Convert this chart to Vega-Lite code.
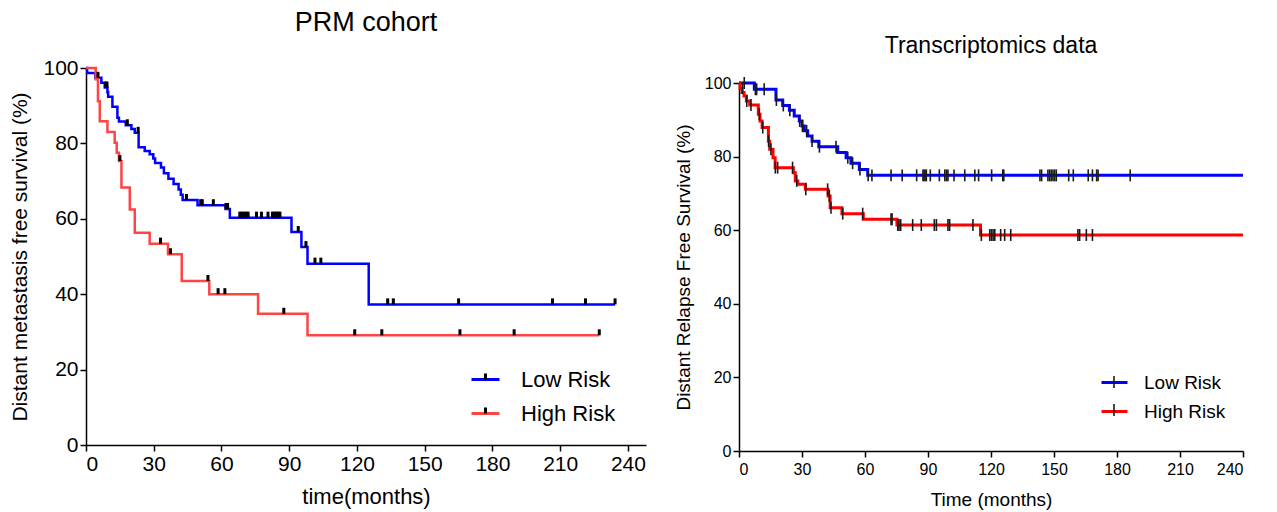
{
  "$schema": "https://vega.github.io/schema/vega-lite/v6.json",
  "padding": {"left": 9, "top": 9, "right": 5, "bottom": 5},
  "background": "white",
  "spacing": 28,
  "config": {
    "view": {"stroke": null},
    "font": "Liberation Sans",
    "axis": {"domainColor": "black", "tickColor": "black", "labelColor": "black", "titleColor": "black", "grid": false, "domainWidth": 1.5, "tickWidth": 1.5, "tickSize": 6, "titleFontWeight": "normal", "labelFont": "Liberation Sans", "titleFont": "Liberation Sans", "labelPadding": 2},
    "legend": {"labelFont": "Liberation Sans", "labelColor": "black", "padding": 0, "title": null},
    "title": {"font": "Liberation Sans", "fontWeight": "normal", "color": "black"}
  },
  "resolve": {"scale": {"color": "independent", "shape": "independent"}, "legend": {"color": "independent", "shape": "independent"}},
  "datasets": {
    "prm_curve": [
      {"t": 0, "s": 100, "group": "Low Risk"}, {"t": 0.5, "s": 98.7, "group": "Low Risk"}, {"t": 4.1, "s": 97.4, "group": "Low Risk"}, {"t": 6.8, "s": 96.1, "group": "Low Risk"}, {"t": 8.3, "s": 94.8, "group": "Low Risk"}, {"t": 9.5, "s": 93.6, "group": "Low Risk"}, {"t": 9.8, "s": 92.4, "group": "Low Risk"}, {"t": 11.7, "s": 89.7, "group": "Low Risk"}, {"t": 13.9, "s": 86.8, "group": "Low Risk"}, {"t": 14.6, "s": 85.8, "group": "Low Risk"}, {"t": 17.6, "s": 84.8, "group": "Low Risk"}, {"t": 20.1, "s": 83.8, "group": "Low Risk"}, {"t": 21.6, "s": 82.8, "group": "Low Risk"}, {"t": 23.3, "s": 79.0, "group": "Low Risk"}, {"t": 26, "s": 78.0, "group": "Low Risk"}, {"t": 28.2, "s": 77.1, "group": "Low Risk"}, {"t": 29.8, "s": 76.0, "group": "Low Risk"}, {"t": 30.6, "s": 74.8, "group": "Low Risk"}, {"t": 33.2, "s": 73.6, "group": "Low Risk"}, {"t": 34.5, "s": 72.1, "group": "Low Risk"}, {"t": 36.5, "s": 70.6, "group": "Low Risk"}, {"t": 38.8, "s": 69.2, "group": "Low Risk"}, {"t": 41, "s": 67.8, "group": "Low Risk"}, {"t": 42, "s": 66.4, "group": "Low Risk"}, {"t": 42.8, "s": 65.0, "group": "Low Risk"}, {"t": 49.4, "s": 63.6, "group": "Low Risk"}, {"t": 61.8, "s": 62.6, "group": "Low Risk"}, {"t": 63.7, "s": 60.3, "group": "Low Risk"}, {"t": 91, "s": 56.5, "group": "Low Risk"}, {"t": 95.4, "s": 52.5, "group": "Low Risk"}, {"t": 98.1, "s": 48.1, "group": "Low Risk"}, {"t": 125.2, "s": 37.3, "group": "Low Risk"}, {"t": 234.3, "s": 37.3, "group": "Low Risk"},
      {"t": 0, "s": 100, "group": "High Risk"}, {"t": 4.3, "s": 97.0, "group": "High Risk"}, {"t": 5.3, "s": 91.2, "group": "High Risk"}, {"t": 6.1, "s": 85.9, "group": "High Risk"}, {"t": 9.5, "s": 83.0, "group": "High Risk"}, {"t": 12.7, "s": 80.2, "group": "High Risk"}, {"t": 13.6, "s": 77.5, "group": "High Risk"}, {"t": 14.6, "s": 75.3, "group": "High Risk"}, {"t": 15.7, "s": 68.3, "group": "High Risk"}, {"t": 19.4, "s": 62.5, "group": "High Risk"}, {"t": 21.6, "s": 56.3, "group": "High Risk"}, {"t": 28.2, "s": 53.4, "group": "High Risk"}, {"t": 36.3, "s": 50.6, "group": "High Risk"}, {"t": 42.4, "s": 43.5, "group": "High Risk"}, {"t": 54.6, "s": 40.0, "group": "High Risk"}, {"t": 76.2, "s": 34.8, "group": "High Risk"}, {"t": 98.1, "s": 29.1, "group": "High Risk"}, {"t": 227.3, "s": 29.1, "group": "High Risk"}
    ],
    "prm_cens": [
      {"t": 5.3, "s": 97.4, "group": "Low Risk"}, {"t": 8.8, "s": 94.8, "group": "Low Risk"}, {"t": 9.3, "s": 94.8, "group": "Low Risk"}, {"t": 18.3, "s": 84.8, "group": "Low Risk"}, {"t": 23.1, "s": 82.8, "group": "Low Risk"}, {"t": 44.5, "s": 65.0, "group": "Low Risk"}, {"t": 50.8, "s": 63.6, "group": "Low Risk"}, {"t": 51.5, "s": 63.6, "group": "Low Risk"}, {"t": 56.4, "s": 63.6, "group": "Low Risk"}, {"t": 62.0, "s": 62.6, "group": "Low Risk"}, {"t": 62.7, "s": 62.6, "group": "Low Risk"}, {"t": 68.1, "s": 60.3, "group": "Low Risk"}, {"t": 69, "s": 60.3, "group": "Low Risk"}, {"t": 70, "s": 60.3, "group": "Low Risk"}, {"t": 70.9, "s": 60.3, "group": "Low Risk"}, {"t": 71.8, "s": 60.3, "group": "Low Risk"}, {"t": 75.5, "s": 60.3, "group": "Low Risk"}, {"t": 77.7, "s": 60.3, "group": "Low Risk"}, {"t": 80.6, "s": 60.3, "group": "Low Risk"}, {"t": 82.6, "s": 60.3, "group": "Low Risk"}, {"t": 83.5, "s": 60.3, "group": "Low Risk"}, {"t": 84.3, "s": 60.3, "group": "Low Risk"}, {"t": 85.1, "s": 60.3, "group": "Low Risk"}, {"t": 85.9, "s": 60.3, "group": "Low Risk"}, {"t": 94, "s": 56.5, "group": "Low Risk"}, {"t": 97.4, "s": 52.5, "group": "Low Risk"}, {"t": 101.4, "s": 48.1, "group": "Low Risk"}, {"t": 104, "s": 48.1, "group": "Low Risk"}, {"t": 133.6, "s": 37.3, "group": "Low Risk"}, {"t": 136.1, "s": 37.3, "group": "Low Risk"}, {"t": 165, "s": 37.3, "group": "Low Risk"}, {"t": 206.6, "s": 37.3, "group": "Low Risk"}, {"t": 221.2, "s": 37.3, "group": "Low Risk"}, {"t": 234.3, "s": 37.3, "group": "Low Risk"},
      {"t": 15.0, "s": 75.3, "group": "High Risk"}, {"t": 33, "s": 53.4, "group": "High Risk"}, {"t": 37.4, "s": 50.6, "group": "High Risk"}, {"t": 54.0, "s": 43.5, "group": "High Risk"}, {"t": 58.5, "s": 40.0, "group": "High Risk"}, {"t": 61.5, "s": 40.0, "group": "High Risk"}, {"t": 87.6, "s": 34.8, "group": "High Risk"}, {"t": 119, "s": 29.1, "group": "High Risk"}, {"t": 131, "s": 29.1, "group": "High Risk"}, {"t": 165.6, "s": 29.1, "group": "High Risk"}, {"t": 189.6, "s": 29.1, "group": "High Risk"}, {"t": 227.3, "s": 29.1, "group": "High Risk"}
    ],
    "tx_curve": [
      {"t": 0, "s": 100, "group": "Low Risk"}, {"t": 7.3, "s": 98.3, "group": "Low Risk"}, {"t": 17.6, "s": 95.4, "group": "Low Risk"}, {"t": 20.8, "s": 93.9, "group": "Low Risk"}, {"t": 24, "s": 92.6, "group": "Low Risk"}, {"t": 26.3, "s": 91.0, "group": "Low Risk"}, {"t": 28.7, "s": 89.7, "group": "Low Risk"}, {"t": 30, "s": 88.3, "group": "Low Risk"}, {"t": 31.1, "s": 87.0, "group": "Low Risk"}, {"t": 32.7, "s": 85.6, "group": "Low Risk"}, {"t": 34.8, "s": 84.2, "group": "Low Risk"}, {"t": 38, "s": 82.7, "group": "Low Risk"}, {"t": 47, "s": 81.1, "group": "Low Risk"}, {"t": 51, "s": 79.7, "group": "Low Risk"}, {"t": 53.3, "s": 78.2, "group": "Low Risk"}, {"t": 57.3, "s": 76.5, "group": "Low Risk"}, {"t": 61.3, "s": 74.9, "group": "Low Risk"}, {"t": 240, "s": 74.9, "group": "Low Risk"},
      {"t": 0, "s": 100, "group": "High Risk"}, {"t": 0.5, "s": 98.6, "group": "High Risk"}, {"t": 1.4, "s": 97.4, "group": "High Risk"}, {"t": 2.4, "s": 96.5, "group": "High Risk"}, {"t": 3.5, "s": 95.1, "group": "High Risk"}, {"t": 5.1, "s": 94.0, "group": "High Risk"}, {"t": 9.2, "s": 91.5, "group": "High Risk"}, {"t": 10.0, "s": 89.7, "group": "High Risk"}, {"t": 11.0, "s": 87.9, "group": "High Risk"}, {"t": 14.0, "s": 84.2, "group": "High Risk"}, {"t": 14.6, "s": 82.0, "group": "High Risk"}, {"t": 16.2, "s": 79.7, "group": "High Risk"}, {"t": 17.2, "s": 77.0, "group": "High Risk"}, {"t": 25.9, "s": 75.6, "group": "High Risk"}, {"t": 26.8, "s": 73.4, "group": "High Risk"}, {"t": 28, "s": 72.5, "group": "High Risk"}, {"t": 31.6, "s": 71.1, "group": "High Risk"}, {"t": 42.4, "s": 69.3, "group": "High Risk"}, {"t": 43.4, "s": 66.1, "group": "High Risk"}, {"t": 49.0, "s": 64.5, "group": "High Risk"}, {"t": 59.2, "s": 63.0, "group": "High Risk"}, {"t": 75.2, "s": 61.4, "group": "High Risk"}, {"t": 115, "s": 58.7, "group": "High Risk"}, {"t": 240, "s": 58.7, "group": "High Risk"}
    ],
    "tx_cens": [
      {"t": 2.5, "s": 100, "group": "Low Risk"}, {"t": 7.8, "s": 98.3, "group": "Low Risk"}, {"t": 8.4, "s": 98.3, "group": "Low Risk"}, {"t": 12, "s": 98.3, "group": "Low Risk"}, {"t": 17.8, "s": 95.4, "group": "Low Risk"}, {"t": 21.1, "s": 93.9, "group": "Low Risk"}, {"t": 24.2, "s": 92.6, "group": "Low Risk"}, {"t": 28.9, "s": 89.7, "group": "Low Risk"}, {"t": 30.2, "s": 88.3, "group": "Low Risk"}, {"t": 32.2, "s": 87.0, "group": "Low Risk"}, {"t": 34.8, "s": 84.2, "group": "Low Risk"}, {"t": 38.3, "s": 82.7, "group": "Low Risk"}, {"t": 46.2, "s": 82.7, "group": "Low Risk"}, {"t": 51.8, "s": 79.7, "group": "Low Risk"}, {"t": 54.1, "s": 78.2, "group": "Low Risk"}, {"t": 57.6, "s": 76.5, "group": "Low Risk"}, {"t": 61.5, "s": 74.9, "group": "Low Risk"}, {"t": 63.3, "s": 74.9, "group": "Low Risk"}, {"t": 72.4, "s": 74.9, "group": "Low Risk"}, {"t": 77.7, "s": 74.9, "group": "Low Risk"}, {"t": 84.6, "s": 74.9, "group": "Low Risk"}, {"t": 87.6, "s": 74.9, "group": "Low Risk"}, {"t": 88.1, "s": 74.9, "group": "Low Risk"}, {"t": 88.6, "s": 74.9, "group": "Low Risk"}, {"t": 89.2, "s": 74.9, "group": "Low Risk"}, {"t": 91.1, "s": 74.9, "group": "Low Risk"}, {"t": 95.4, "s": 74.9, "group": "Low Risk"}, {"t": 98, "s": 74.9, "group": "Low Risk"}, {"t": 98.8, "s": 74.9, "group": "Low Risk"}, {"t": 99.5, "s": 74.9, "group": "Low Risk"}, {"t": 102.4, "s": 74.9, "group": "Low Risk"}, {"t": 107.5, "s": 74.9, "group": "Low Risk"}, {"t": 112.3, "s": 74.9, "group": "Low Risk"}, {"t": 114.1, "s": 74.9, "group": "Low Risk"}, {"t": 120.3, "s": 74.9, "group": "Low Risk"}, {"t": 125.6, "s": 74.9, "group": "Low Risk"}, {"t": 126.1, "s": 74.9, "group": "Low Risk"}, {"t": 143.3, "s": 74.9, "group": "Low Risk"}, {"t": 144.1, "s": 74.9, "group": "Low Risk"}, {"t": 147.1, "s": 74.9, "group": "Low Risk"}, {"t": 147.9, "s": 74.9, "group": "Low Risk"}, {"t": 148.7, "s": 74.9, "group": "Low Risk"}, {"t": 149.5, "s": 74.9, "group": "Low Risk"}, {"t": 150.3, "s": 74.9, "group": "Low Risk"}, {"t": 151.1, "s": 74.9, "group": "Low Risk"}, {"t": 157, "s": 74.9, "group": "Low Risk"}, {"t": 159.2, "s": 74.9, "group": "Low Risk"}, {"t": 166.3, "s": 74.9, "group": "Low Risk"}, {"t": 168.3, "s": 74.9, "group": "Low Risk"}, {"t": 170.3, "s": 74.9, "group": "Low Risk"}, {"t": 171, "s": 74.9, "group": "Low Risk"}, {"t": 186.3, "s": 74.9, "group": "Low Risk"},
      {"t": 1.7, "s": 98.6, "group": "High Risk"}, {"t": 3.7, "s": 95.1, "group": "High Risk"}, {"t": 5.7, "s": 94.0, "group": "High Risk"}, {"t": 9.7, "s": 91.5, "group": "High Risk"}, {"t": 11.3, "s": 87.9, "group": "High Risk"}, {"t": 14.1, "s": 84.2, "group": "High Risk"}, {"t": 15.2, "s": 82.0, "group": "High Risk"}, {"t": 17.3, "s": 77.0, "group": "High Risk"}, {"t": 18.4, "s": 77.0, "group": "High Risk"}, {"t": 25.5, "s": 77.0, "group": "High Risk"}, {"t": 27.5, "s": 73.4, "group": "High Risk"}, {"t": 31.8, "s": 71.1, "group": "High Risk"}, {"t": 42.2, "s": 71.1, "group": "High Risk"}, {"t": 43.0, "s": 69.3, "group": "High Risk"}, {"t": 43.8, "s": 66.1, "group": "High Risk"}, {"t": 49.4, "s": 64.5, "group": "High Risk"}, {"t": 58.9, "s": 64.5, "group": "High Risk"}, {"t": 72.4, "s": 63.0, "group": "High Risk"}, {"t": 72.9, "s": 63.0, "group": "High Risk"}, {"t": 75.6, "s": 61.4, "group": "High Risk"}, {"t": 76.2, "s": 61.4, "group": "High Risk"}, {"t": 77, "s": 61.4, "group": "High Risk"}, {"t": 82.7, "s": 61.4, "group": "High Risk"}, {"t": 86.8, "s": 61.4, "group": "High Risk"}, {"t": 93, "s": 61.4, "group": "High Risk"}, {"t": 94, "s": 61.4, "group": "High Risk"}, {"t": 99.5, "s": 61.4, "group": "High Risk"}, {"t": 100.3, "s": 61.4, "group": "High Risk"}, {"t": 111.4, "s": 61.4, "group": "High Risk"}, {"t": 115.4, "s": 58.7, "group": "High Risk"}, {"t": 119.4, "s": 58.7, "group": "High Risk"}, {"t": 120.2, "s": 58.7, "group": "High Risk"}, {"t": 121, "s": 58.7, "group": "High Risk"}, {"t": 121.8, "s": 58.7, "group": "High Risk"}, {"t": 124.6, "s": 58.7, "group": "High Risk"}, {"t": 126.5, "s": 58.7, "group": "High Risk"}, {"t": 129.4, "s": 58.7, "group": "High Risk"}, {"t": 161.4, "s": 58.7, "group": "High Risk"}, {"t": 162.2, "s": 58.7, "group": "High Risk"}, {"t": 165.4, "s": 58.7, "group": "High Risk"}, {"t": 168.3, "s": 58.7, "group": "High Risk"}
    ]
  },
  "hconcat": [
    {
      "width": 560,
      "height": 377,
      "title": {"text": "PRM cohort", "fontSize": 27, "offset": 20},
      "layer": [
        {
          "data": {"name": "prm_curve"},
          "mark": {"type": "line", "interpolate": "step-after", "strokeWidth": 2.5},
          "encoding": {
            "x": {"field": "t", "type": "quantitative", "scale": {"domain": [0, 248], "nice": false, "zero": false},
                  "axis": {"values": [0, 30, 60, 90, 120, 150, 180, 210, 240], "title": "time(months)", "titleFontSize": 22, "labelFontSize": 21, "titlePadding": 12}},
            "y": {"field": "s", "type": "quantitative", "scale": {"domain": [0, 100], "nice": false},
                  "axis": {"values": [0, 20, 40, 60, 80, 100], "title": "Distant metastasis free survival (%)", "titleFontSize": 21, "labelFontSize": 21, "titlePadding": 12}},
            "color": {"field": "group", "type": "nominal", "scale": {"domain": ["Low Risk", "High Risk"], "range": ["#0000FF", "#FF4444"]},
                      "legend": {"orient": "none", "legendX": 384, "legendY": 296, "symbolType": "stroke", "symbolSize": 784, "symbolStrokeWidth": 3, "labelFontSize": 22, "labelOffset": 20, "rowPadding": 7}}
          }
        },
        {
          "data": {"name": "prm_cens"},
          "mark": {"type": "point", "filled": false, "stroke": "black", "strokeWidth": 3, "size": 784, "opacity": 1},
          "encoding": {
            "x": {"field": "t", "type": "quantitative"},
            "y": {"field": "s", "type": "quantitative"},
            "shape": {"field": "group", "type": "nominal", "scale": {"range": ["M0,-0.43V0", "M0,-0.43V0"]},
                      "legend": {"orient": "none", "legendX": 384, "legendY": 296, "symbolSize": 784, "symbolStrokeColor": "black", "symbolStrokeWidth": 3, "symbolFillColor": "transparent", "labelFontSize": 22, "labelOffset": 20, "rowPadding": 7, "labelExpr": "''"}}
          }
        }
      ]
    },
    {
      "width": 504,
      "height": 383,
      "title": {"text": "Transcriptomics data", "fontSize": 23, "offset": 10},
      "layer": [
        {
          "data": {"name": "tx_curve"},
          "mark": {"type": "line", "interpolate": "step-after", "strokeWidth": 3},
          "encoding": {
            "x": {"field": "t", "type": "quantitative", "scale": {"domain": [0, 240], "nice": false, "zero": false},
                  "axis": {"values": [0, 30, 60, 90, 120, 150, 180, 210, 240], "title": "Time (months)", "titleFontSize": 19, "labelFontSize": 16, "labelPadding": 4, "titlePadding": 13}},
            "y": {"field": "s", "type": "quantitative", "scale": {"domain": [0, 100], "nice": false, "range": [383, 15]},
                  "axis": {"values": [0, 20, 40, 60, 80, 100], "title": "Distant Relapse Free Survival (%)", "titleFontSize": 19, "labelFontSize": 16, "titlePadding": 11}},
            "color": {"field": "group", "type": "nominal", "scale": {"domain": ["Low Risk", "High Risk"], "range": ["#0000FF", "#FF0000"]},
                      "legend": {"orient": "none", "legendX": 361, "legendY": 300, "symbolType": "stroke", "symbolSize": 676, "symbolStrokeWidth": 3, "labelFontSize": 19, "labelOffset": 15, "rowPadding": 4}}
          }
        },
        {
          "data": {"name": "tx_cens"},
          "mark": {"type": "point", "filled": false, "stroke": "#1a1a1a", "strokeWidth": 1.6, "size": 676, "opacity": 1},
          "encoding": {
            "x": {"field": "t", "type": "quantitative"},
            "y": {"field": "s", "type": "quantitative"},
            "shape": {"field": "group", "type": "nominal", "scale": {"range": ["M0,-0.46V0.46", "M0,-0.46V0.46"]},
                      "legend": {"orient": "none", "legendX": 361, "legendY": 300, "symbolSize": 676, "symbolStrokeColor": "#1a1a1a", "symbolStrokeWidth": 1.6, "symbolFillColor": "transparent", "labelFontSize": 19, "labelOffset": 15, "rowPadding": 4, "labelExpr": "''"}}
          }
        }
      ]
    }
  ]
}
